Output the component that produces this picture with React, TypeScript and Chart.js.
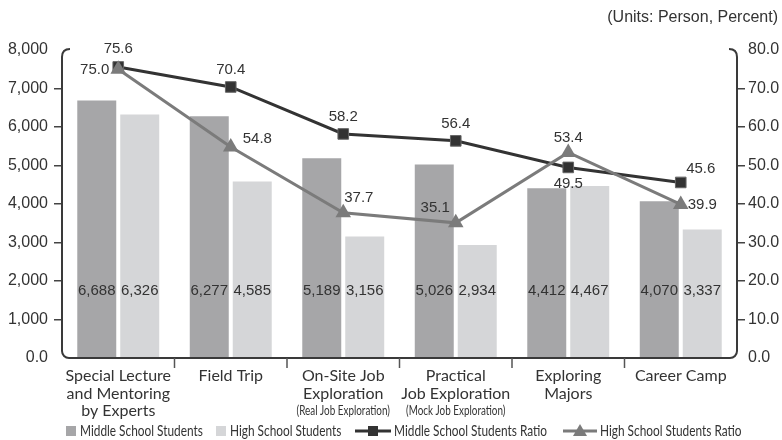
import React, { useEffect, useRef } from "react";
import { Chart, registerables } from "chart.js";

Chart.register(...registerables);

// ---- data ----
const categories: string[][] = [
  ["Special Lecture", "and Mentoring", "by Experts"],
  ["Field Trip"],
  ["On-Site Job", "Exploration"],
  ["Practical", "Job Exploration"],
  ["Exploring", "Majors"],
  ["Career Camp"],
];
const categorySubtitles = ["", "", "(Real Job Exploration)", "(Mock Job Exploration)", "", ""];
const middleStudents = [6688, 6277, 5189, 5026, 4412, 4070];
const highStudents = [6326, 4585, 3156, 2934, 4467, 3337];
const middleRatio = [75.6, 70.4, 58.2, 56.4, 49.5, 45.6];
const highRatio = [75.0, 54.8, 37.7, 35.1, 53.4, 39.9];
const seriesNames = [
  "Middle School Students",
  "High School Students",
  "Middle School Students Ratio",
  "High School Students Ratio",
];
const unitsNote = "(Units: Person, Percent)";
const leftAxis = { min: 0, max: 8000, step: 1000 };
const rightAxis = { min: 0, max: 80, step: 10 };

// ---- styles ----
const C_MID_BAR = "#a6a6a8";
const C_HIGH_BAR = "#d5d6d8";
const C_MID_LINE = "#333333";
const C_HIGH_LINE = "#7b7b7b";
const C_TEXT = "#333333";
const NUM_FONT = '"Liberation Sans", Arial, sans-serif';
const CAT_FONT = 'Lato, "Noto Sans", sans-serif';

// label offsets [dx, dy, align]
const midLabelPos: [number, number, CanvasTextAlign][] = [
  [0, -18, "center"],
  [0, -17, "center"],
  [0, -17, "center"],
  [0, -17, "center"],
  [0, 16, "center"],
  [20, -14, "center"],
];
const highLabelPos: [number, number, CanvasTextAlign][] = [
  [-9, 1, "right"],
  [12, -8, "left"],
  [1, -15, "left"],
  [-6, -15, "right"],
  [0, -15, "center"],
  [7, 0, "left"],
];

const fmtInt = (v: number) => v.toLocaleString("en-US");

function drawCondensed(ctx: CanvasRenderingContext2D, text: string, x: number, y: number, align: "left" | "center", sx: number) {
  const w = ctx.measureText(text).width * sx;
  const x0 = align === "center" ? x - w / 2 : x;
  ctx.save();
  ctx.translate(x0, y);
  ctx.scale(sx, 1);
  ctx.textAlign = "left";
  ctx.fillText(text, 0, 0);
  ctx.restore();
}

const drawPlugin = {
  id: "customDraw",
  afterDatasetsDraw(chart: any) {
    const { ctx, chartArea } = chart;
    const L = chartArea.left, R = chartArea.right, T = chartArea.top, B = chartArea.bottom;
    const xs = chart.scales.x;
    ctx.save();

    // frame
    ctx.strokeStyle = "#3a3a3a";
    ctx.lineWidth = 2;
    ctx.beginPath();
    const r = 7;
    ctx.moveTo(L + 8, T - 1);
    ctx.quadraticCurveTo(L, T - 1, L, T + 7);
    ctx.lineTo(L, B - r);
    ctx.arcTo(L, B, L + r, B, r);
    ctx.lineTo(R - r, B);
    ctx.arcTo(R, B, R, B - r, r);
    ctx.lineTo(R, T + 7);
    ctx.quadraticCurveTo(R, T - 1, R - 8, T - 1);
    ctx.stroke();

    // x separators
    ctx.strokeStyle = "#555";
    ctx.lineWidth = 1.5;
    for (let i = 1; i < categories.length; i++) {
      const x = (xs.getPixelForValue(i - 1) + xs.getPixelForValue(i)) / 2;
      ctx.beginPath();
      ctx.moveTo(x, B);
      ctx.lineTo(x, B + 10);
      ctx.stroke();
    }

    // bar labels
    ctx.fillStyle = C_TEXT;
    ctx.font = `15px ${NUM_FONT}`;
    ctx.textAlign = "center";
    ctx.textBaseline = "middle";
    [0, 1].forEach((di) => {
      const meta = chart.getDatasetMeta(di);
      const vals = chart.data.datasets[di].data as number[];
      meta.data.forEach((el: any, i: number) => {
        ctx.fillText(fmtInt(vals[i]), el.x, B - 67);
      });
    });

    // line labels
    const lineLabel = (di: number, pos: [number, number, CanvasTextAlign][]) => {
      const meta = chart.getDatasetMeta(di);
      const vals = chart.data.datasets[di].data as number[];
      meta.data.forEach((el: any, i: number) => {
        const [dx, dy, al] = pos[i];
        ctx.textAlign = al;
        ctx.fillText(vals[i].toFixed(1), el.x + dx, el.y + dy);
      });
    };
    lineLabel(2, midLabelPos);
    lineLabel(3, highLabelPos);

    // category labels
    ctx.textAlign = "center";
    categories.forEach((lines, i) => {
      const x = xs.getPixelForValue(i);
      ctx.font = `16px ${CAT_FONT}`;
      lines.forEach((ln, k) => {
        ctx.fillText(ln, x, B + 18 + k * 17.5);
      });
      if (categorySubtitles[i]) {
        ctx.font = `13px ${CAT_FONT}`;
        drawCondensed(ctx, categorySubtitles[i], x, B + 17.5 + lines.length * 17.5, "center", 0.76);
      }
    });

    // units note
    ctx.font = `16px ${NUM_FONT}`;
    ctx.textAlign = "right";
    ctx.fillText(unitsNote, 778, 18);

    // legend
    const ly = 431;
    const sx = 0.79;
    ctx.font = `15px ${CAT_FONT}`;
    ctx.fillStyle = C_MID_BAR;
    ctx.fillRect(66, ly - 5, 10, 10);
    ctx.fillStyle = C_TEXT;
    drawCondensed(ctx, seriesNames[0], 80, ly, "left", sx);
    ctx.fillStyle = C_HIGH_BAR;
    ctx.fillRect(216, ly - 5, 10, 10);
    ctx.fillStyle = C_TEXT;
    drawCondensed(ctx, seriesNames[1], 230, ly, "left", sx);

    ctx.strokeStyle = C_MID_LINE;
    ctx.lineWidth = 3;
    ctx.beginPath();
    ctx.moveTo(355, ly);
    ctx.lineTo(391, ly);
    ctx.stroke();
    ctx.fillStyle = C_MID_LINE;
    ctx.fillRect(373 - 5, ly - 5, 10, 10);
    ctx.fillStyle = C_TEXT;
    drawCondensed(ctx, seriesNames[2], 394, ly, "left", sx);

    ctx.strokeStyle = C_HIGH_LINE;
    ctx.beginPath();
    ctx.moveTo(563, ly);
    ctx.lineTo(597, ly);
    ctx.stroke();
    ctx.fillStyle = C_HIGH_LINE;
    ctx.beginPath();
    ctx.moveTo(580, ly - 7);
    ctx.lineTo(587, ly + 5);
    ctx.lineTo(573, ly + 5);
    ctx.closePath();
    ctx.fill();
    ctx.fillStyle = C_TEXT;
    drawCondensed(ctx, seriesNames[3], 600, ly, "left", sx);

    ctx.restore();
  },
};

export default function App() {
  const ref = useRef<HTMLCanvasElement | null>(null);
  useEffect(() => {
    document.body.style.margin = "0";
    if (!ref.current) return;
    const tickColor = (c: any) =>
      c.index === 0 || c.index === (c.scale.ticks?.length ?? 0) - 1 ? "rgba(0,0,0,0)" : "#444";
    const chart = new Chart(ref.current, {
      type: "bar",
      data: {
        labels: categories.map((c) => c.join(" ")),
        datasets: [
          {
            type: "bar",
            label: seriesNames[0],
            data: middleStudents,
            backgroundColor: C_MID_BAR,
            yAxisID: "y",
            order: 3,
            categoryPercentage: 0.764,
            barPercentage: 0.907,
          },
          {
            type: "bar",
            label: seriesNames[1],
            data: highStudents,
            backgroundColor: C_HIGH_BAR,
            yAxisID: "y",
            order: 3,
            categoryPercentage: 0.764,
            barPercentage: 0.907,
          },
          {
            type: "line",
            label: seriesNames[2],
            data: middleRatio,
            borderColor: C_MID_LINE,
            backgroundColor: C_MID_LINE,
            borderWidth: 3,
            pointStyle: "rect",
            pointRadius: 7.5,
            pointBorderColor: "#666",
            pointBorderWidth: 1,
            pointBackgroundColor: C_MID_LINE,
            yAxisID: "y1",
            order: 1,
          },
          {
            type: "line",
            label: seriesNames[3],
            data: highRatio,
            borderColor: C_HIGH_LINE,
            backgroundColor: C_HIGH_LINE,
            borderWidth: 3,
            pointStyle: "triangle",
            pointRadius: 9,
            pointBorderWidth: 0,
            pointBackgroundColor: C_HIGH_LINE,
            yAxisID: "y1",
            order: 0,
          },
        ] as any,
      },
      options: {
        animation: false,
        responsive: true,
        maintainAspectRatio: false,
        layout: { padding: { top: 50, left: 0, right: 0, bottom: 0 } },
        plugins: { legend: { display: false }, tooltip: { enabled: false }, title: { display: false } },
        scales: {
          x: {
            ticks: { display: false },
            grid: { display: false },
            border: { display: false },
            afterFit: (s: any) => {
              s.height = 82;
            },
          },
          y: {
            position: "left",
            min: leftAxis.min,
            max: leftAxis.max,
            ticks: {
              stepSize: leftAxis.step,
              color: C_TEXT,
              padding: 6,
              font: { family: NUM_FONT, size: 16 },
              callback: (v: any) => (v === 0 ? "0.0" : fmtInt(Number(v))),
            },
            grid: { drawOnChartArea: false, drawTicks: true, tickLength: 8, color: tickColor, lineWidth: 1.5 },
            border: { display: false },
            afterFit: (s: any) => {
              s.width = 62;
            },
          },
          y1: {
            position: "right",
            min: rightAxis.min,
            max: rightAxis.max,
            ticks: {
              stepSize: rightAxis.step,
              color: C_TEXT,
              padding: 3,
              font: { family: NUM_FONT, size: 16 },
              callback: (v: any) => Number(v).toFixed(1),
            },
            grid: { drawOnChartArea: false, drawTicks: true, tickLength: 8, color: tickColor, lineWidth: 1.5 },
            border: { display: false },
            afterFit: (s: any) => {
              s.width = 45;
            },
          },
        },
      } as any,
      plugins: [drawPlugin],
    });
    return () => chart.destroy();
  }, []);
  return (
    <div style={{ position: "absolute", left: 0, top: 0, width: 782, height: 440, background: "#fff" }}>
      <canvas ref={ref} />
    </div>
  );
}
